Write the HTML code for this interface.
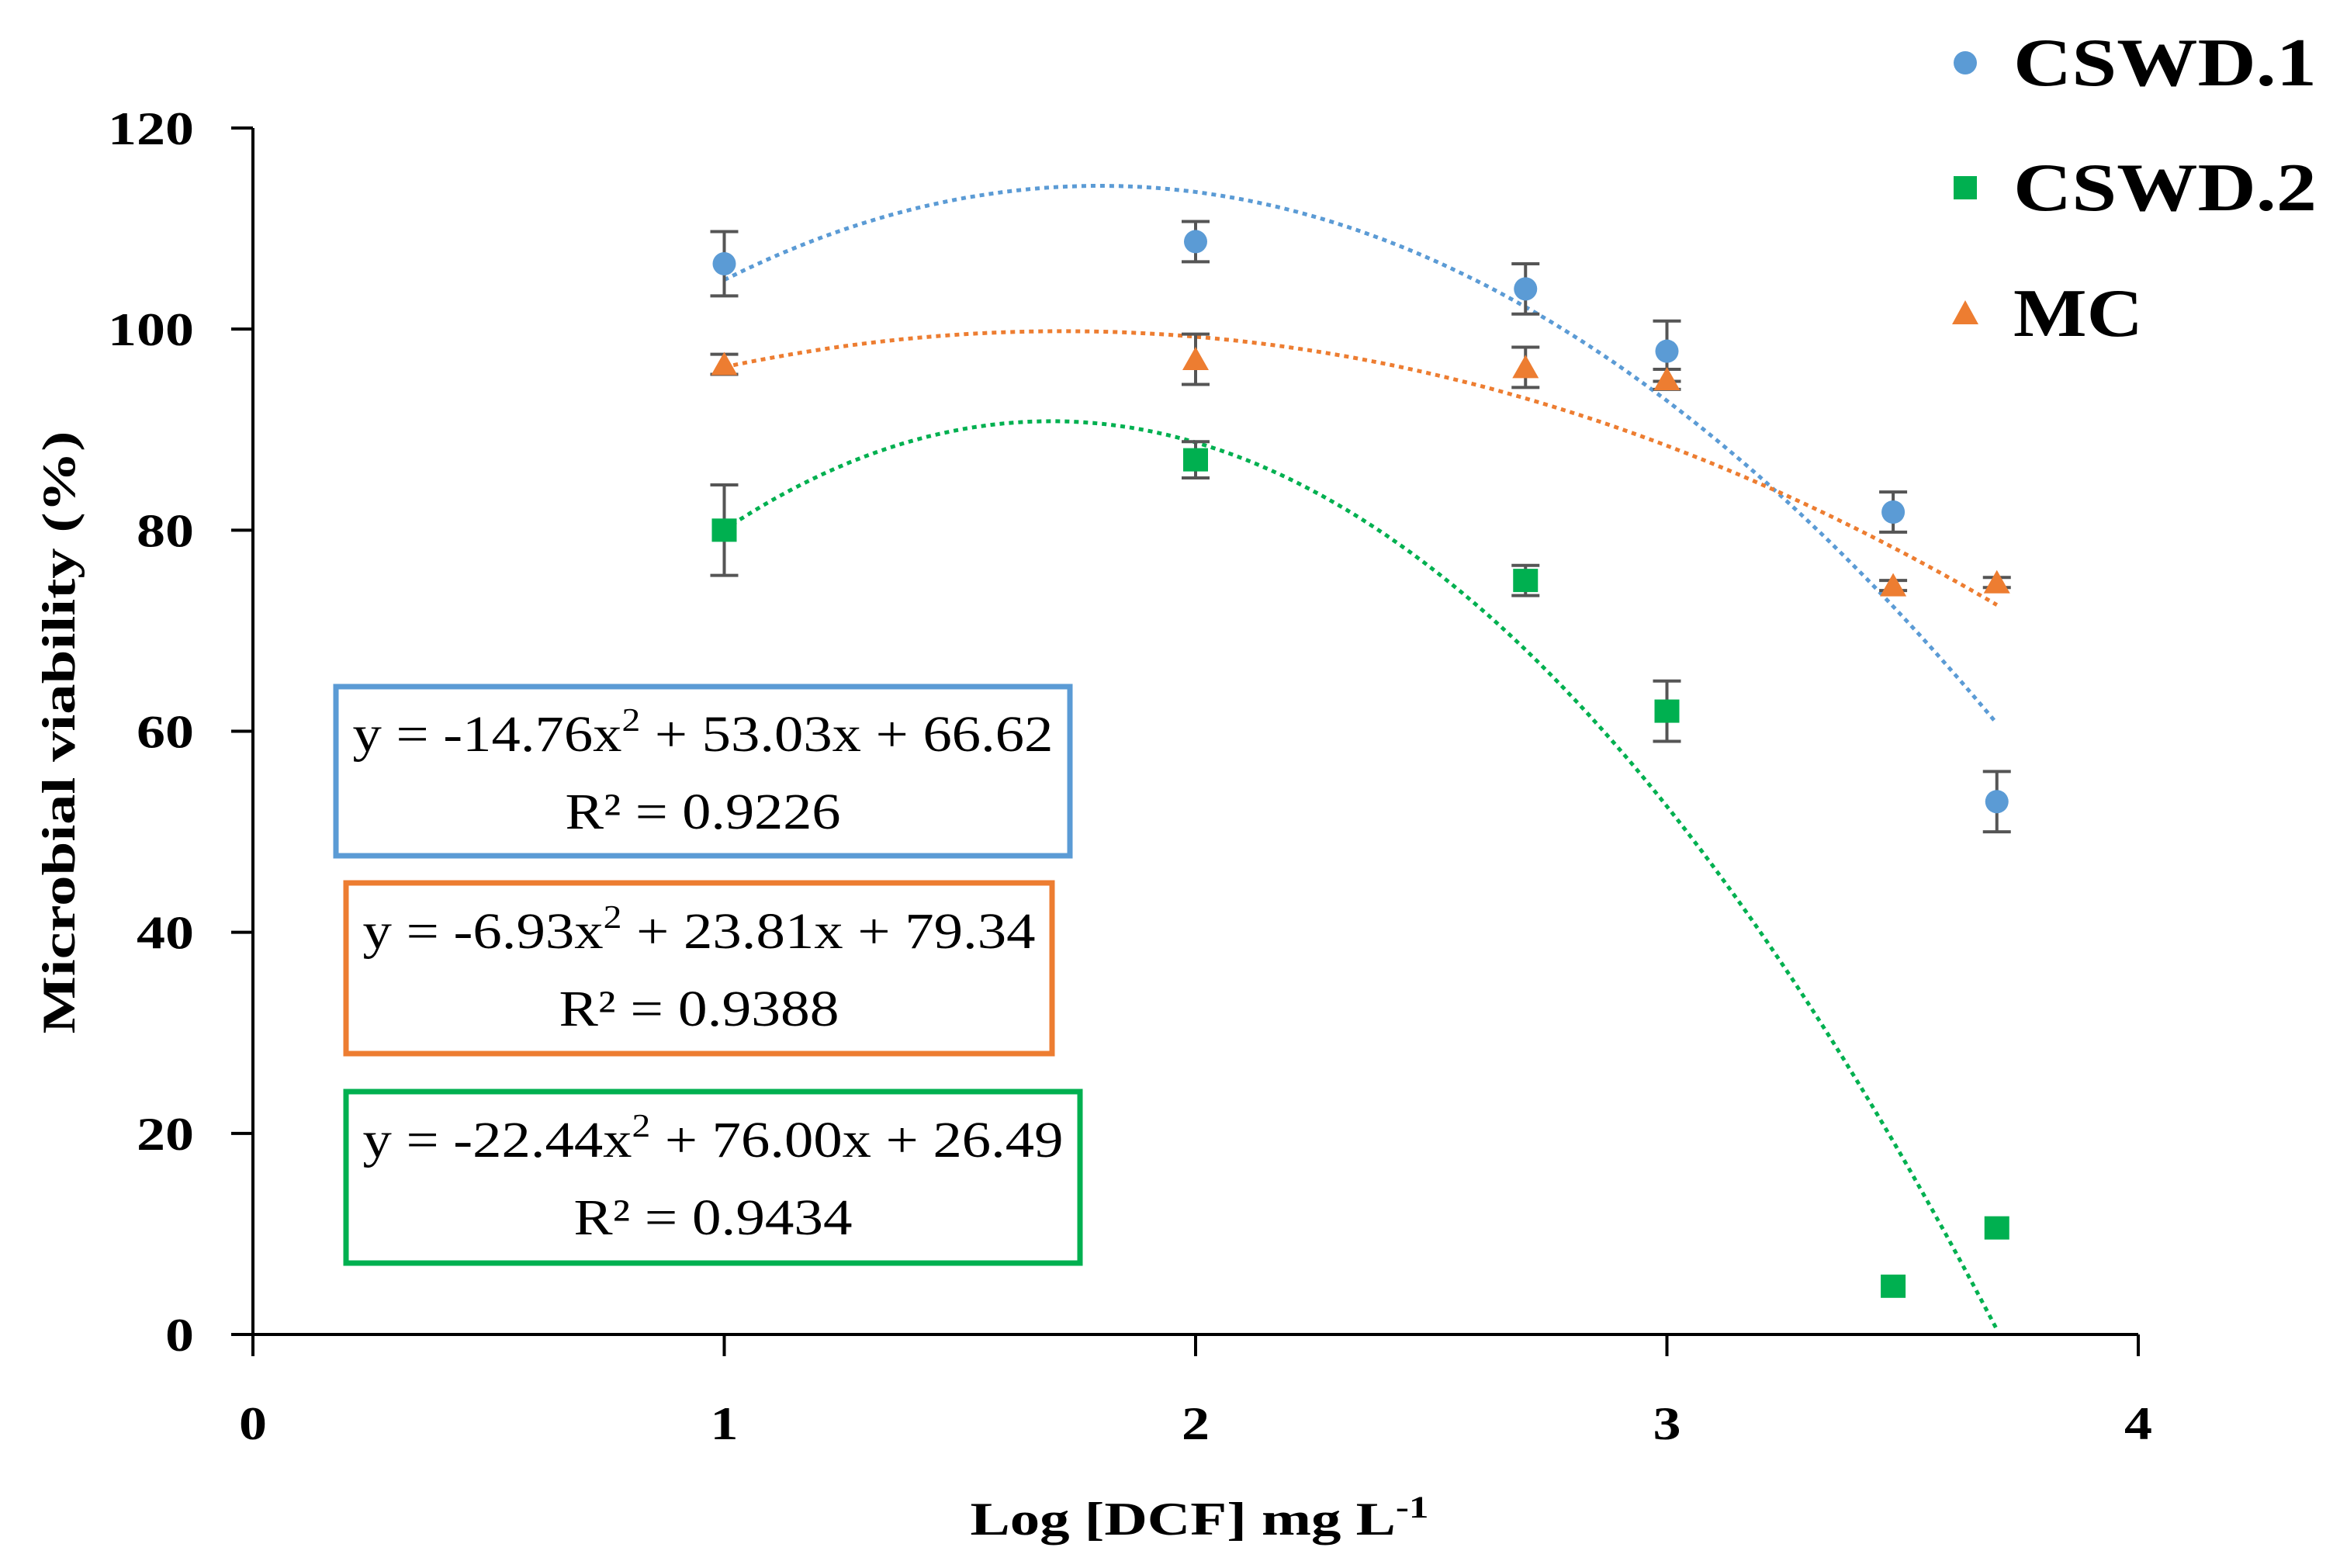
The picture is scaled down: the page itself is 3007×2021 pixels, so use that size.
<!DOCTYPE html>
<html><head><meta charset="utf-8"><style>
html,body{margin:0;padding:0;background:#fff}
svg{display:block}
text{font-family:"Liberation Serif",serif}
</style></head><body>
<svg id="chart" width="3007" height="2021" viewBox="0 0 3007 2021" xmlns="http://www.w3.org/2000/svg">
<g id="axes"></g>
<g id="trends"></g>
<g id="marks"></g>
<text x="0" y="0" transform="translate(96,944) rotate(-90)" text-anchor="middle" font-size="60" font-weight="bold" textLength="777" lengthAdjust="spacingAndGlyphs">Microbial viability (%)</text>
<text x="1546" y="1978" text-anchor="middle" font-size="60" font-weight="bold" textLength="591" lengthAdjust="spacingAndGlyphs">Log [DCF] mg L<tspan dy="-22" font-size="40">-1</tspan></text>
<g>
<circle cx="2533" cy="81" r="15" fill="#5b9bd5"/>
<text x="2595" y="110" font-size="88" font-weight="bold" textLength="391" lengthAdjust="spacingAndGlyphs">CSWD.1</text>
<rect x="2518" y="227" width="30" height="30" fill="#00b050"/>
<text x="2595" y="271" font-size="88" font-weight="bold" textLength="391" lengthAdjust="spacingAndGlyphs">CSWD.2</text>
<polygon points="2533,387 2550,418 2516,418" fill="#ed7d31"/>
<text x="2595" y="433" font-size="88" font-weight="bold" textLength="167" lengthAdjust="spacingAndGlyphs">MC</text>
</g>
<g>
<rect x="433" y="885" width="946" height="218" fill="#fff" stroke="#5b9bd5" stroke-width="7"/>
<text x="906" y="968" text-anchor="middle" font-size="66" textLength="903" lengthAdjust="spacingAndGlyphs">y = -14.76x<tspan dy="-26" font-size="42">2</tspan><tspan dy="26"> + 53.03x + 66.62</tspan></text>
<text x="906" y="1068" text-anchor="middle" font-size="66" textLength="355" lengthAdjust="spacingAndGlyphs">R² = 0.9226</text>
</g>
<g>
<rect x="446" y="1138" width="910" height="220" fill="#fff" stroke="#ed7d31" stroke-width="7"/>
<text x="901" y="1222" text-anchor="middle" font-size="66" textLength="867" lengthAdjust="spacingAndGlyphs">y = -6.93x<tspan dy="-26" font-size="42">2</tspan><tspan dy="26"> + 23.81x + 79.34</tspan></text>
<text x="901" y="1322" text-anchor="middle" font-size="66" textLength="361" lengthAdjust="spacingAndGlyphs">R² = 0.9388</text>
</g>
<g>
<rect x="446" y="1407" width="946" height="221" fill="#fff" stroke="#00b050" stroke-width="7"/>
<text x="919" y="1491" text-anchor="middle" font-size="66" textLength="903" lengthAdjust="spacingAndGlyphs">y = -22.44x<tspan dy="-26" font-size="42">2</tspan><tspan dy="26"> + 76.00x + 26.49</tspan></text>
<text x="919" y="1591" text-anchor="middle" font-size="66" textLength="359" lengthAdjust="spacingAndGlyphs">R² = 0.9434</text>
</g>
</svg>
<script>
const xValues = [1, 2, 2.7, 3, 3.48, 3.7];
const cswd1 = [106.5, 108.7, 104, 97.8, 81.8, 53];
const cswd1Err = [3.2, 2, 2.5, 3, 2, 3];
const cswd2 = [80, 87, 75, 62, 4.8, 10.6];
const cswd2Err = [4.5, 1.8, 1.5, 3, 0, 0];
const mc = [96.5, 97, 96.2, 95, 74.5, 74.8];
const mcErr = [1, 2.5, 2, 1, 0.5, 0.5];
const fitCswd1 = [-14.76, 53.03, 66.62];
const fitCswd2 = [-22.44, 76.00, 26.49];
const fitMc = [-6.93, 23.81, 79.34];
const xTicks = [0, 1, 2, 3, 4];
const yTicks = [0, 20, 40, 60, 80, 100, 120];

const NS = "http://www.w3.org/2000/svg";
const X0 = 326, X4 = 2756, Y0 = 1720, Y120 = 165;
const sx = v => X0 + (X4 - X0) * v / 4;
const sy = v => Y0 - (Y0 - Y120) * v / 120;
function mk(tag, attrs, parent) {
  const e = document.createElementNS(NS, tag);
  for (const k in attrs) e.setAttribute(k, attrs[k]);
  parent.appendChild(e);
  return e;
}
const axes = document.getElementById('axes');
let l = mk('line', {x1: sx(0), y1: sy(0), x2: sx(4), y2: sy(0), stroke: '#000', 'stroke-width': 4}, axes);


l = mk('line', {x1: sx(0), y1: sy(0), x2: sx(0), y2: sy(120), stroke: '#000', 'stroke-width': 4}, axes);


xTicks.forEach(t => {
  const tk = mk('line', {x1: sx(t), y1: sy(0), x2: sx(t), y2: sy(0) + 28, stroke: '#000', 'stroke-width': 4}, axes);
  
  
  const tx = mk('text', {x: sx(t), y: 1855, 'text-anchor': 'middle', 'font-size': 60, 'font-weight': 'bold', textLength: 36, lengthAdjust: 'spacingAndGlyphs'}, axes);
  tx.textContent = t;
  
  
});
yTicks.forEach(t => {
  const n = String(t).length;
  const tx = mk('text', {x: 250, y: sy(t) + 21, 'text-anchor': 'end', 'font-size': 60, 'font-weight': 'bold', textLength: 37 * n, lengthAdjust: 'spacingAndGlyphs'}, axes);
  tx.textContent = t;
  
  
  const tk = mk('line', {x1: sx(0) - 28, y1: sy(t), x2: sx(0), y2: sy(t), stroke: '#000', 'stroke-width': 4}, axes);
  
  
});
const trends = document.getElementById('trends');
function trend(c, color, name) {
  let d = '';
  for (let i = 0; i <= 100; i++) {
    const x = 1 + 2.7 * i / 100;
    const y = c[0] * x * x + c[1] * x + c[2];
    d += (i ? 'L' : 'M') + sx(x).toFixed(1) + ',' + sy(y).toFixed(1);
  }
  const p = mk('path', {d: d, fill: 'none', stroke: color, 'stroke-width': 5, 'stroke-dasharray': '6,6'}, trends);
  
  
}
trend(fitCswd1, '#5b9bd5', 'trendline-cswd1');
trend(fitMc, '#ed7d31', 'trendline-mc');
trend(fitCswd2, '#00b050', 'trendline-cswd2');
const marks = document.getElementById('marks');
function series(vals, errs, color, shape, name) {
  vals.forEach((v, i) => {
    const cx = sx(xValues[i]), cy = sy(v);
    if (errs[i] > 0) {
      const eb = mk('path', {d: `M${cx},${sy(v + errs[i])}V${sy(v - errs[i])}M${cx - 18},${sy(v + errs[i])}h36M${cx - 18},${sy(v - errs[i])}h36`, stroke: '#555', 'stroke-width': 4, fill: 'none'}, marks);
      
      
    }
    let m;
    if (shape === 'circle') m = mk('circle', {cx: cx, cy: cy, r: 15, fill: color}, marks);
    else if (shape === 'square') m = mk('rect', {x: cx - 16, y: cy - 15, width: 32, height: 30, fill: color}, marks);
    else m = mk('polygon', {points: `${cx},${cy - 16} ${cx + 17},${cy + 14} ${cx - 17},${cy + 14}`, fill: color}, marks);
    
    
  });
}
series(cswd1, cswd1Err, '#5b9bd5', 'circle', 'cswd1');
series(mc, mcErr, '#ed7d31', 'triangle', 'mc');
series(cswd2, cswd2Err, '#00b050', 'square', 'cswd2');
</script>
</body></html>
